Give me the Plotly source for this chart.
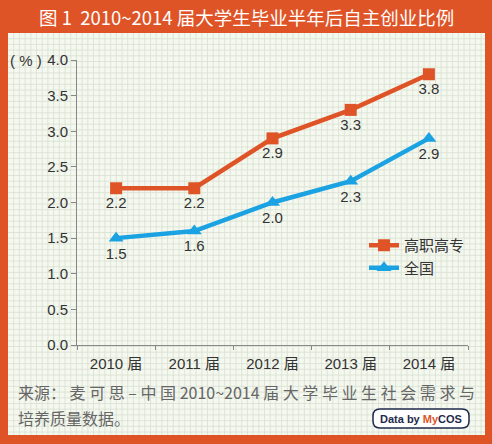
import plotly.graph_objects as go

# data
years = ["2010 届", "2011 届", "2012 届", "2013 届", "2014 届"]
gzgz = [2.2, 2.2, 2.9, 3.3, 3.8]      # 高职高专
quanguo = [1.5, 1.6, 2.0, 2.3, 2.9]   # 全国
y_ticks = [0.0, 0.5, 1.0, 1.5, 2.0, 2.5, 3.0, 3.5, 4.0]

W, H = 492, 444
L, R, T, B = 77, 24, 60, 99
ORANGE = "#DF5427"
BLUE = "#1AA2E2"
FONT = "Liberation Sans, Noto Sans CJK SC, sans-serif"
CJK = "Noto Sans CJK SC, sans-serif"


# pixel -> paper coords
def px(x):
    return (x - L) / (W - L - R)


def py(y):
    return (H - B - y) / (H - T - B)


fig = go.Figure()

fig.add_trace(go.Scatter(
    x=years, y=gzgz, name="高职高专", mode="lines+markers+text",
    line=dict(color=ORANGE, width=4.5),
    marker=dict(symbol="square", size=12, color=ORANGE),
    text=[f"{v:.1f}" for v in gzgz], textposition="bottom center",
    textfont=dict(size=15, color="#333333", family=FONT),
))
fig.add_trace(go.Scatter(
    x=years, y=quanguo, name="全国", mode="lines+markers+text",
    line=dict(color=BLUE, width=4.5),
    marker=dict(symbol="triangle-up", size=13, color=BLUE),
    text=[f"{v:.1f}" for v in quanguo], textposition="bottom center",
    textfont=dict(size=15, color="#333333", family=FONT),
))

# background panel + graph paper grid
shapes = [dict(type="rect", xref="paper", yref="paper",
               x0=px(8), x1=px(485), y0=py(435), y1=py(33),
               fillcolor="#F5F8EF", line=dict(width=0), layer="below")]
step = 5.7
gx = 8 + step
while gx < 485:
    shapes.append(dict(type="line", xref="paper", yref="paper",
                       x0=px(gx), x1=px(gx), y0=py(435), y1=py(33),
                       line=dict(color="#D8E0D2", width=0.8), layer="below"))
    gx += step
gy = 33 + step
while gy < 435:
    shapes.append(dict(type="line", xref="paper", yref="paper",
                       x0=px(8), x1=px(485), y0=py(gy), y1=py(gy),
                       line=dict(color="#D8E0D2", width=0.8), layer="below"))
    gy += step

# "Data by MyCOS" badge (rounded rect)
bx0, bx1, by0, by1, rr = 373, 469, 409, 428, 7
pts = [
    f"M {px(bx0 + rr)},{py(by0)}",
    f"L {px(bx1 - rr)},{py(by0)}",
    f"Q {px(bx1)},{py(by0)} {px(bx1)},{py(by0 + rr)}",
    f"L {px(bx1)},{py(by1 - rr)}",
    f"Q {px(bx1)},{py(by1)} {px(bx1 - rr)},{py(by1)}",
    f"L {px(bx0 + rr)},{py(by1)}",
    f"Q {px(bx0)},{py(by1)} {px(bx0)},{py(by1 - rr)}",
    f"L {px(bx0)},{py(by0 + rr)}",
    f"Q {px(bx0)},{py(by0)} {px(bx0 + rr)},{py(by0)} Z",
]
shapes.append(dict(type="path", xref="paper", yref="paper", path=" ".join(pts),
                   fillcolor="#FFFFFF", line=dict(color="#1E2A4A", width=1.5)))

annotations = [
    dict(text="图 1  2010~2014 届大学生毕业半年后自主创业比例",
         x=px(246), y=py(17), xanchor="center",
         font=dict(size=18.5, color="white", family=CJK)),
    dict(text="( % )", x=px(44), y=py(60), xanchor="right",
         font=dict(size=15, color="#333333", family=FONT)),
    dict(text="来源： 麦 可 思 – 中 国 2010~2014 届 大 学 毕 业 生 社 会 需 求 与",
         x=px(16), y=py(392), xanchor="left",
         font=dict(size=16, color="#666666", family=CJK)),
    dict(text="培养质量数据。",
         x=px(16), y=py(418), xanchor="left",
         font=dict(size=16, color="#666666", family=CJK)),
    dict(text="<b>Data by <span style='color:#DF5427'>My</span>COS</b>",
         x=px((bx0 + bx1) / 2), y=py((by0 + by1) / 2), xanchor="center",
         font=dict(size=11, color="#1E2A4A", family=FONT)),
]
for a in annotations:
    a.update(xref="paper", yref="paper", yanchor="middle", showarrow=False)

fig.update_layout(
    width=W, height=H,
    margin=dict(l=L, r=R, t=T, b=B),
    paper_bgcolor=ORANGE,
    plot_bgcolor="rgba(0,0,0,0)",
    shapes=shapes,
    annotations=annotations,
    showlegend=True,
    legend=dict(x=px(364), y=py(229), xanchor="left", yanchor="top",
                bgcolor="rgba(0,0,0,0)", font=dict(size=15, color="#333333", family=CJK),
                tracegroupgap=2),
    xaxis=dict(type="category", range=[-0.5, 4.5], tickson="boundaries",
               showline=True, linecolor="#888888", linewidth=1,
               ticks="outside", ticklen=4, tickcolor="#888888",
               ticklabelstandoff=5,
               showgrid=False, zeroline=False,
               tickfont=dict(size=15, color="#333333", family=FONT)),
    yaxis=dict(range=[0, 4.0], tickvals=y_ticks, tickformat=".1f",
               showline=True, linecolor="#888888", linewidth=1,
               ticks="outside", ticklen=5, tickcolor="#888888",
               showgrid=False, zeroline=False,
               tickfont=dict(size=15, color="#333333", family=FONT)),
)

fig.write_html("out.html", config={"displayModeBar": False},
               post_script="document.body.style.margin='0';")
